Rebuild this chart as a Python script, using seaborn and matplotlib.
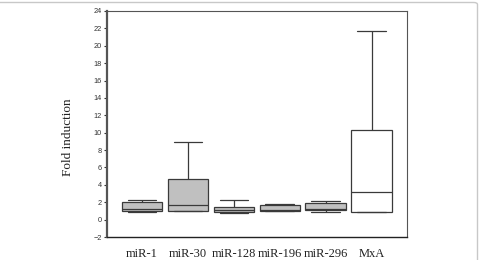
import numpy as np
import pandas as pd
import matplotlib
matplotlib.use("Agg")
import matplotlib.pyplot as plt
import seaborn as sns
from matplotlib.patches import FancyBboxPatch

# groups and five-number summaries: min, q1, median, q3, max
groups = ["miR-1", "miR-30", "miR-128", "miR-196", "miR-296", "MxA"]
mir1 = [0.85, 1.0, 1.2, 2.0, 2.26]
mir30 = [0.95, 1.0, 1.65, 4.65, 8.9]
mir128 = [0.72, 0.87, 1.07, 1.5, 2.26]
mir196 = [0.95, 1.0, 1.1, 1.68, 1.75]
mir296 = [0.84, 1.07, 1.19, 1.91, 2.1]
mxa = [0.85, 0.91, 3.15, 10.27, 21.75]
box_colors = ["#c0c0c0", "#c0c0c0", "#c0c0c0", "#c0c0c0", "#c0c0c0", "#ffffff"]
yticks = list(range(-2, 25, 2))

df = pd.DataFrame({
    "group": np.repeat(groups, 5),
    "fold": mir1 + mir30 + mir128 + mir196 + mir296 + mxa,
})

sns.set_style("ticks")
fig = plt.figure(figsize=(4.79, 2.60), dpi=100)
ax = fig.add_axes([107 / 479, 23 / 260, 299.5 / 479, 226 / 260])

sns.boxplot(data=df, x="group", y="fold", hue="group", order=groups,
            palette=box_colors, legend=False, width=0.88, whis=np.inf,
            linecolor="#3a3a3a", linewidth=0.9, saturation=1, ax=ax)

# wider caps, like the original
for cont in ax.containers:
    for cap in getattr(cont, "caps", []):
        xd = np.asarray(cap.get_xdata(), dtype=float)
        c = xd.mean()
        cap.set_xdata([c - 0.31, c + 0.31])

ax.set_xlim(-0.76, 5.76)
ax.set_ylim(-2, 24)
ax.set_yticks(yticks)
ax.set_xlabel("")
ax.set_ylabel("Fold induction", family="Liberation Serif", fontsize=9.5,
              color="#222222")
ax.yaxis.set_label_coords(-0.11, 0.44)

for lab in ax.get_yticklabels():
    lab.set_family("Liberation Sans")
    lab.set_fontsize(5.3)
    lab.set_color("#333333")
for lab in ax.get_xticklabels():
    lab.set_family("Liberation Serif")
    lab.set_fontsize(9)
    lab.set_color("#222222")

ax.tick_params(axis="y", length=2.5, width=0.8, pad=1, color="#333333")
ax.tick_params(axis="x", length=0, pad=8)

for side in ["top", "right"]:
    ax.spines[side].set_visible(True)
    ax.spines[side].set_color("#555555")
    ax.spines[side].set_linewidth(0.8)
ax.spines["left"].set_color("#555555")
ax.spines["left"].set_linewidth(1.6)
ax.spines["bottom"].set_color("#222222")
ax.spines["bottom"].set_linewidth(1.0)

# light rounded frame around the image (only top and right visible)
frame = FancyBboxPatch((-20 / 479, -20 / 260), 497.5 / 479, 277.5 / 260,
                       boxstyle="round,pad=0,rounding_size=0.008",
                       transform=fig.transFigure, fill=False,
                       edgecolor="#c8c8c8", linewidth=1.0)
fig.add_artist(frame)

fig.savefig("out.png", dpi=100)
